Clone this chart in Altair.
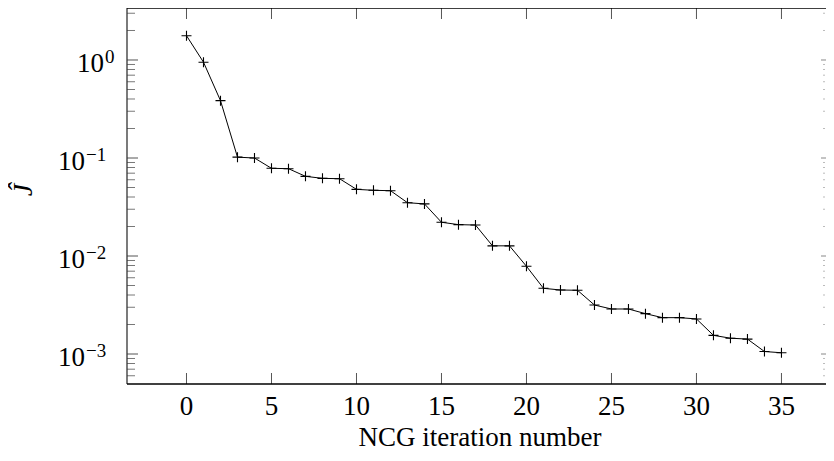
import altair as alt
import pandas as pd

# ---- data ----
iterations = list(range(36))
j_hat = [1.77, 0.95, 0.385, 0.102, 0.100, 0.0785, 0.0778, 0.065, 0.062, 0.0615,
         0.0479, 0.0468, 0.0464, 0.035, 0.034, 0.0221, 0.0209, 0.0207, 0.0127, 0.0127,
         0.00785, 0.00468, 0.0045, 0.00447, 0.00316, 0.00288, 0.00288, 0.00258, 0.00235, 0.00235,
         0.00228, 0.00155, 0.00145, 0.00142, 0.00106, 0.00103]

x_tick_values = [0, 5, 10, 15, 20, 25, 30, 35]
x_tick_labels = ["0", "5", "10", "15", "20", "25", "30", "35"]
y_major_values = [1.0, 0.1, 0.01, 0.001]
y_major_exponents = ["0", "\u22121", "\u22122", "\u22123"]
y_minor_values = [6e-4, 7e-4, 8e-4, 9e-4,
                  2e-3, 3e-3, 4e-3, 5e-3, 6e-3, 7e-3, 8e-3, 9e-3,
                  2e-2, 3e-2, 4e-2, 5e-2, 6e-2, 7e-2, 8e-2, 9e-2,
                  2e-1, 3e-1, 4e-1, 5e-1, 6e-1, 7e-1, 8e-1, 9e-1,
                  2.0, 3.0]
x_title = "NCG iteration number"
y_title = "\u0134"

W, H = 699, 376
FONT = "Liberation Serif, DejaVu Serif, serif"

xscale = alt.Scale(domain=[-3.5, 37.62], nice=False, zero=False)
yscale = alt.Scale(type="log", domain=[4.943e-4, 3.393], nice=False)

df = pd.DataFrame({"it": iterations, "J": j_hat})
xt = pd.DataFrame({"x": x_tick_values, "label": x_tick_labels})
ymaj = pd.DataFrame({"v": y_major_values, "e": y_major_exponents})
ymin = pd.DataFrame({"v": y_minor_values})
one = pd.DataFrame({"k": [0]})


def X(f):
    return alt.X(f, scale=xscale, axis=None)


def Y(f):
    return alt.Y(f, scale=yscale, axis=None)


line = alt.Chart(df).mark_line(color="black", strokeWidth=1).encode(x=X("it:Q"), y=Y("J:Q"))
pts = alt.Chart(df).mark_point(shape="M-1,0L1,0M0,-1L0,1", size=100, filled=False,
                               color="black", strokeWidth=1.1, opacity=1).encode(x=X("it:Q"), y=Y("J:Q"))

tick_col = "#555555"
xtick_b = alt.Chart(xt).mark_rule(color=tick_col, strokeWidth=1).encode(
    x=X("x:Q"), y=alt.value(H), y2=alt.value(H - 11))
xtick_t = alt.Chart(xt).mark_rule(color=tick_col, strokeWidth=1).encode(
    x=X("x:Q"), y=alt.value(0), y2=alt.value(11))
xlab = alt.Chart(xt).mark_text(font=FONT, fontSize=27, baseline="alphabetic", align="center",
                               color="black").encode(x=X("x:Q"), y=alt.value(H + 31), text="label:N")

ytick_l = alt.Chart(ymaj).mark_rule(color=tick_col, strokeWidth=1).encode(
    y=Y("v:Q"), x=alt.value(0), x2=alt.value(11))
ytick_r = alt.Chart(ymaj).mark_rule(color="#888888", strokeWidth=1).encode(
    y=Y("v:Q"), x=alt.value(W - 5), x2=alt.value(W))
yminor_l = alt.Chart(ymin).mark_rule(color=tick_col, strokeWidth=0.8).encode(
    y=Y("v:Q"), x=alt.value(0), x2=alt.value(8))
yminor_r = alt.Chart(ymin).mark_rule(color="#aaaaaa", strokeWidth=0.8).encode(
    y=Y("v:Q"), x=alt.value(W - 3), x2=alt.value(W - 1))

yexp0 = alt.Chart(ymaj).transform_filter("datum.e == '0'").mark_text(
    font=FONT, fontSize=19, align="left", baseline="alphabetic", dy=3, color="black").encode(
    y=Y("v:Q"), x=alt.value(-22), text="e:N")
yexpN = alt.Chart(ymaj).transform_filter("datum.e != '0'").mark_text(
    font=FONT, fontSize=19, align="left", baseline="alphabetic", dy=3, color="black").encode(
    y=Y("v:Q"), x=alt.value(-41), text="e:N")
ten0 = alt.Chart(ymaj).transform_filter("datum.e == '0'").mark_text(
    font=FONT, fontSize=27, align="right", baseline="alphabetic", dy=12, color="black").encode(
    y=Y("v:Q"), x=alt.value(-23), text=alt.value("10"))
tenN = alt.Chart(ymaj).transform_filter("datum.e != '0'").mark_text(
    font=FONT, fontSize=27, align="right", baseline="alphabetic", dy=12, color="black").encode(
    y=Y("v:Q"), x=alt.value(-42), text=alt.value("10"))

left = alt.Chart(one).mark_rule(color="#333333", strokeWidth=1.3).encode(
    x=alt.value(0), y=alt.value(0), y2=alt.value(H))
top = alt.Chart(one).mark_rule(color="black", strokeWidth=1.3).encode(
    x=alt.value(0), x2=alt.value(W), y=alt.value(0))
bottom = alt.Chart(one).mark_rule(color="black", strokeWidth=1.3).encode(
    x=alt.value(0), x2=alt.value(W), y=alt.value(H))

xtitle = alt.Chart(one).mark_text(font=FONT, fontSize=27, align="center", baseline="alphabetic",
                                  color="black").encode(x=alt.value(353), y=alt.value(438),
                                                        text=alt.value(x_title))
ytitle = alt.Chart(one).mark_text(font=FONT, fontSize=28, fontStyle="italic", align="center",
                                  baseline="middle", angle=270, color="black").encode(
    x=alt.value(-103), y=alt.value(182), text=alt.value(y_title))

chart = alt.layer(
    yminor_l, yminor_r, ytick_l, ytick_r, xtick_b, xtick_t,
    left, top, bottom, line, pts, xlab, yexp0, yexpN, ten0, tenN, xtitle, ytitle
).properties(
    width=W, height=H,
    autosize=alt.AutoSizeParams(type="none"),
    padding={"left": 119, "top": 0, "right": 0, "bottom": 69},
    background="white",
).configure_view(stroke=None)

chart.save("out.html", embed_options={"renderer": "svg", "actions": False})
